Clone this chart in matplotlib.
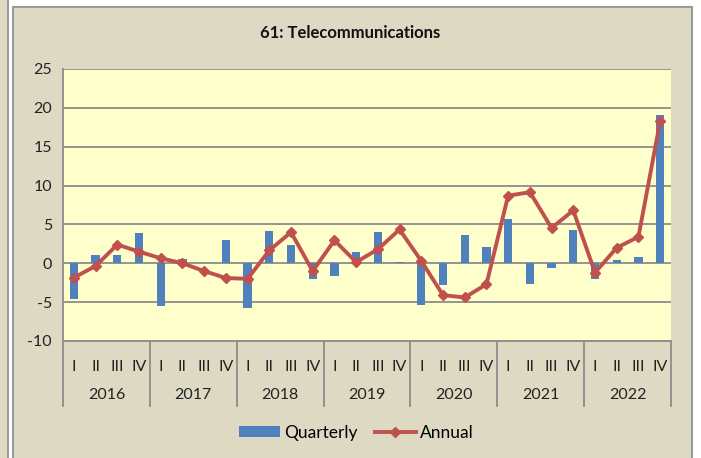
import numpy as np
import matplotlib.pyplot as plt
from matplotlib.patches import Rectangle
from matplotlib.lines import Line2D

# datos
years = ['2016', '2017', '2018', '2019', '2020', '2021', '2022']
quarters = ['I', 'II', 'III', 'IV']
quarterly = [-4.6, 1.1, 1.1, 3.9,
             -5.5, 0.5, 0.0, 2.95,
             -5.7, 4.2, 2.4, -2.0,
             -1.6, 1.45, 4.0, 0.2,
             -5.35, -2.8, 3.65, 2.1,
             5.65, -2.7, -0.6, 4.25,
             -2.0, 0.4, 0.75, 19.1]
annual = [-1.85, -0.35, 2.4, 1.5,
          0.65, 0.0, -1.0, -1.9,
          -2.0, 1.65, 4.0, -1.0,
          2.95, 0.15, 1.8, 4.35,
          0.3, -4.1, -4.4, -2.7,
          8.7, 9.15, 4.55, 6.8,
          -1.2, 2.0, 3.4, 18.25]

tan = '#DDD9C3'
azul = '#4F81BD'
rojo = '#C0504D'
gris = '#8C8C8C'

plt.rcParams['font.family'] = ['Lato', 'DejaVu Sans']
plt.rcParams['axes.unicode_minus'] = False

fig = plt.figure(figsize=(7.01, 4.58), dpi=100, facecolor='white')
W, H = 701, 458

#marco del grafico y panel vecino
fig.patches.append(Rectangle((0, 0), 7 / W, 1, transform=fig.transFigure,
                             facecolor=tan, edgecolor='none', zorder=-10))
fig.patches.append(Rectangle((7 / W, 0), 1.5 / W, 1, transform=fig.transFigure,
                             facecolor='#9A9A9A', edgecolor='none', zorder=-10))
fig.patches.append(Rectangle((13 / W, -0.05), (692 - 13) / W, 1.05 - 7 / H,
                             transform=fig.transFigure, facecolor=tan,
                             edgecolor='#9A9A9A', linewidth=1.5, zorder=-10))

ax = fig.add_axes([63 / W, 1 - 341 / H, (671 - 63) / W, (341 - 69) / H])
ax.set_zorder(5)
ax.set_facecolor('#FFFFCC')

x = np.arange(len(quarterly))
ax.bar(x, quarterly, width=0.38, color=azul, zorder=2)
ax.plot(x, annual, color=rojo, linewidth=2.8, marker='D', markersize=5.5, zorder=3)

ax.set_xlim(-0.5, len(quarterly) - 0.5)
ax.set_ylim(-10, 25)
ax.set_yticks(range(-10, 26, 5))
ax.yaxis.grid(True, color=gris, linewidth=1.3, zorder=1)
ax.set_axisbelow(True)
ax.tick_params(axis='y', length=0, labelsize=11.5, pad=8, colors='#222222')

for s in ['top', 'right']:
    ax.spines[s].set_visible(False)
for s in ['left', 'bottom']:
    ax.spines[s].set_color(gris)
    ax.spines[s].set_linewidth(1.3)

# etiquetas de trimestres y años
ax.set_xticks(x)
ax.set_xticklabels(quarters * len(years), fontsize=11.5, color='#222222')
ax.tick_params(axis='x', length=0, pad=14)

trans = ax.get_xaxis_transform()
for i, yr in enumerate(years):
    ax.text(i * 4 + 1.5, -0.199, yr, transform=trans, ha='center', va='center',
            fontsize=11.5, color='#222222')
for k in range(len(years) + 1):
    ax.plot([k * 4 - 0.5, k * 4 - 0.5], [0, -0.239], transform=trans,
            color=gris, linewidth=1.3, clip_on=False)

fig.text(350 / W, 1 - 33 / H, '61: Telecommunications', ha='center', va='center',
         fontsize=12, fontweight='bold', color='#111111')

handles = [Rectangle((0, 0), 1, 1, facecolor=azul, edgecolor='none'),
           Line2D([], [], color=rojo, linewidth=2.8, marker='D', markersize=5)]
fig.legend(handles, ['Quarterly', 'Annual'], loc='center',
           bbox_to_anchor=(356 / W, 1 - 433 / H), ncol=2, frameon=False,
           fontsize=12.5, handlelength=2.4, handleheight=0.6, handletextpad=0.2,
           columnspacing=1.0)

plt.savefig('out.png', dpi=100, facecolor=fig.get_facecolor())
